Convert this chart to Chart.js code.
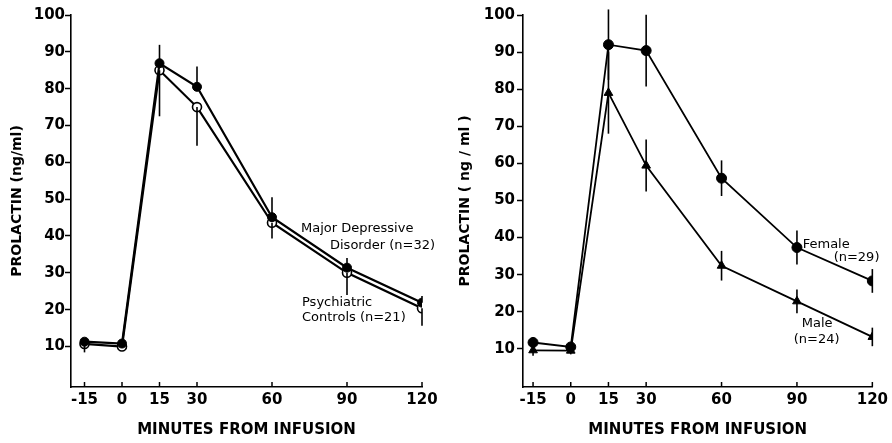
<!DOCTYPE html>
<html>
<head>
<meta charset="utf-8">
<script src="https://cdn.jsdelivr.net/npm/chart.js@4.4.1/dist/chart.umd.min.js"></script>
<style>
  html, body { margin: 0; padding: 0; background: #fff; }
  #wrap { position: relative; width: 892px; height: 443px; }
  .panel { position: absolute; top: 0; width: 446px; height: 443px; }
</style>
</head>
<body>
<div id="wrap">
  <div class="panel" style="left:0"><canvas id="c1" width="446" height="443"></canvas></div>
  <div class="panel" style="left:446px"><canvas id="c2" width="446" height="443"></canvas></div>
</div>
<script>
// ---- data ----
const minutes = [-15, 0, 15, 30, 60, 90, 120];
const xTickValues = [-15, 0, 15, 30, 60, 90, 120];
const xTickLabels = ['-15', '0', '15', '30', '60', '90', '120'];
const yTickValues = [10, 20, 30, 40, 50, 60, 70, 80, 90, 100];

// Left panel
const mddMean     = [11.3, 10.8, 86.9, 80.5, 45.1, 31.4, 21.9];
const mddErrUp    = [0, 0, 5.0, 5.5, 5.4, 2.6, 1.8];
const ctrlMean    = [10.7, 10.0, 85.0, 75.0, 43.6, 30.0, 20.4];
const ctrlErrDown = [2.3, 0, 12.5, 10.5, 4.3, 6.0, 4.8];

// Right panel
const femaleMean = [11.7, 10.5, 92.0, 90.4, 56.0, 37.3, 28.3];
const femaleErr  = [1.5, 1.0, 9.5, 9.7, 4.8, 4.6, 3.2];
const maleMean   = [9.6, 9.5, 79.0, 59.4, 32.4, 22.8, 13.2];
const maleErr    = [1.5, 1.0, 11.0, 7.0, 4.0, 3.2, 2.5];

const FONT = '"DejaVu Sans", sans-serif';

function pts(ys) { return minutes.map((m, i) => ({ x: m, y: ys[i] })); }

// Error bars + inward x ticks + text notes, all drawn through the chart's scales
const extrasPlugin = {
  id: 'extras',
  afterDatasetsDraw(chart, args, opts) {
    const ctx = chart.ctx, xs = chart.scales.x, ys = chart.scales.y;
    ctx.save();
    ctx.strokeStyle = '#000';
    ctx.lineWidth = 1.6;
    chart.data.datasets.forEach(ds => {
      const up = ds.errUp || [], dn = ds.errDown || [];
      ds.data.forEach((p, i) => {
        const u = up[i] || 0, d = dn[i] || 0;
        if (!u && !d) return;
        const px = xs.getPixelForValue(p.x);
        ctx.beginPath();
        ctx.moveTo(px, ys.getPixelForValue(p.y + u));
        ctx.lineTo(px, ys.getPixelForValue(p.y - d));
        ctx.stroke();
      });
    });
    // inward x tick marks
    ctx.lineWidth = 1.5;
    const by = chart.chartArea.bottom;
    xTickValues.forEach(v => {
      const px = xs.getPixelForValue(v);
      ctx.beginPath();
      ctx.moveTo(px, by);
      ctx.lineTo(px, by - 5);
      ctx.stroke();
    });
    // notes
    ctx.fillStyle = '#000';
    ctx.font = '13px ' + FONT;
    ctx.textBaseline = 'middle';
    ctx.textAlign = 'left';
    (opts.notes || []).forEach(n => {
      ctx.fillText(n.text, xs.getPixelForValue(n.x), ys.getPixelForValue(n.y));
    });
    ctx.restore();
  }
};

function makeChart(id, datasets, cfg) {
  return new Chart(document.getElementById(id), {
    type: 'line',
    data: { datasets },
    plugins: [extrasPlugin],
    options: {
      responsive: false,
      animation: false,
      devicePixelRatio: 1,
      layout: { padding: { left: 0, top: 15, right: cfg.padRight, bottom: 0 } },
      plugins: {
        legend: { display: false },
        tooltip: { enabled: false },
        extras: { notes: cfg.notes }
      },
      scales: {
        x: {
          type: 'linear',
          min: cfg.xMin, max: 120,
          afterBuildTicks(s) { s.ticks = xTickValues.map(v => ({ value: v })); },
          afterFit(s) { s.height = 56; },
          ticks: {
            color: '#000',
            font: { family: FONT, size: 15, weight: 'bold' },
            padding: 4,
            maxRotation: 0,
            autoSkip: false,
            callback: (v) => xTickLabels[xTickValues.indexOf(v)]
          },
          grid: { drawOnChartArea: false, drawTicks: false },
          border: { color: '#000', width: 1.6 },
          title: {
            display: true,
            text: 'MINUTES FROM INFUSION',
            color: '#000',
            font: { family: FONT, size: 15, weight: 'bold' },
            padding: { top: 0, bottom: 4 }
          }
        },
        y: {
          type: 'linear',
          min: cfg.yMin, max: 100,
          afterBuildTicks(s) { s.ticks = yTickValues.map(v => ({ value: v })); },
          afterFit(s) { s.width = cfg.yWidth; },
          ticks: {
            color: '#000',
            font: { family: FONT, size: 15, weight: 'bold' },
            padding: cfg.tickPad
          },
          grid: { drawOnChartArea: false, drawTicks: true, tickLength: 6, tickWidth: 1.5, tickColor: '#000' },
          border: { color: '#000', width: 1.6 },
          title: {
            display: true,
            text: cfg.yTitle,
            color: '#000',
            font: { family: FONT, size: 14, weight: 'bold' },
            padding: { top: cfg.titlePad, bottom: 0 }
          }
        }
      }
    }
  });
}

makeChart('c1', [
  {
    label: 'Major Depressive Disorder (n=32)',
    data: pts(mddMean), errUp: mddErrUp,
    borderColor: '#000', borderWidth: 2.2, backgroundColor: '#000',
    pointStyle: 'circle', pointRadius: 4.5, pointBorderWidth: 1, pointBackgroundColor: '#000', pointBorderColor: '#000',
    tension: 0
  },
  {
    label: 'Psychiatric Controls (n=21)',
    data: pts(ctrlMean), errDown: ctrlErrDown,
    borderColor: '#000', borderWidth: 2.2, backgroundColor: '#fff',
    pointStyle: 'circle', pointRadius: 4.5, pointBorderWidth: 1.6, pointBackgroundColor: '#fff', pointBorderColor: '#000',
    tension: 0
  }
], {
  xMin: -20.4, yMin: -1, yWidth: 71, padRight: 24, tickPad: 0, titlePad: 9,
  yTitle: 'PROLACTIN (ng/ml)',
  notes: [
    { text: 'Major Depressive', x: 71.6, y: 42 },
    { text: 'Disorder (n=32)', x: 83.2, y: 37.4 },
    { text: 'Psychiatric', x: 72, y: 22 },
    { text: 'Controls (n=21)', x: 72, y: 17.9 }
  ]
});

makeChart('c2', [
  {
    label: 'Female (n=29)',
    data: pts(femaleMean), errUp: femaleErr, errDown: femaleErr,
    borderColor: '#000', borderWidth: 1.8, backgroundColor: '#000',
    pointStyle: 'circle', pointRadius: 5, pointBorderWidth: 1, pointBackgroundColor: '#000', pointBorderColor: '#000',
    tension: 0
  },
  {
    label: 'Male (n=24)',
    data: pts(maleMean), errUp: maleErr, errDown: maleErr,
    borderColor: '#000', borderWidth: 1.8, backgroundColor: '#000',
    pointStyle: 'triangle', pointRadius: 5, pointBorderWidth: 1, pointBackgroundColor: '#000', pointBorderColor: '#000',
    tension: 0
  }
], {
  xMin: -19, yMin: -0.3, yWidth: 77, padRight: 18, tickPad: 2, titlePad: 11,
  yTitle: 'PROLACTIN ( ng / ml )',
  notes: [
    { text: 'Female', x: 92.3, y: 38 },
    { text: '(n=29)', x: 104.6, y: 34.5 },
    { text: 'Male', x: 91.9, y: 16.8 },
    { text: '(n=24)', x: 88.7, y: 12.5 }
  ]
});
</script>
</body>
</html>
